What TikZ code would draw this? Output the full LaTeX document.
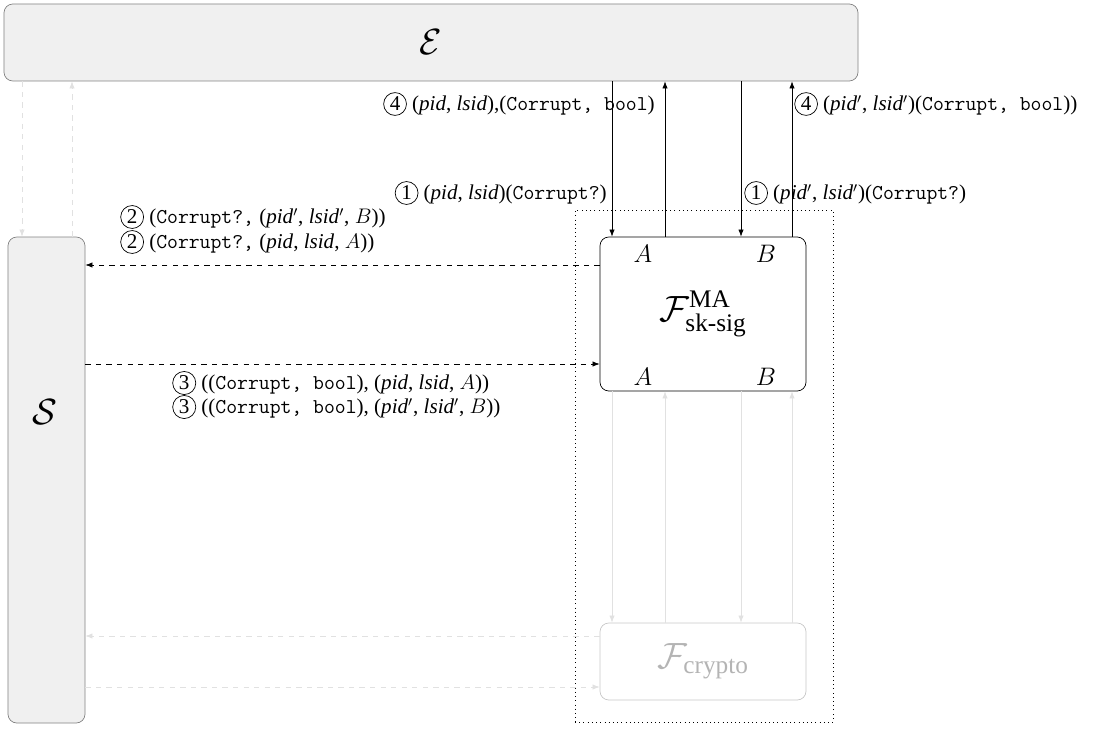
\documentclass[tikz,border=0pt]{standalone}
\usepackage{amsmath}
\usepackage{fontspec}
\setmainfont{Liberation Serif}
\usetikzlibrary{arrows.meta,positioning}
\definecolor{envfill}{RGB}{240,240,240}
\definecolor{envdraw}{RGB}{130,130,130}
\definecolor{ghostline}{RGB}{225,225,225}
\definecolor{ghostdraw}{RGB}{200,200,200}
\definecolor{ghosttext}{RGB}{180,180,180}
\newcommand{\circled}[1]{\tikz[baseline=(c.base)]\node[draw,circle,inner sep=1.1pt](c){#1};}
\newcommand{\pid}{\textit{pid}}
\newcommand{\lsid}{\textit{lsid}}
\newcommand{\msg}[1]{\texttt{#1}}
\tikzset{
party/.style={draw=envdraw, fill=envfill, rounded corners=5pt, font=\huge},
func/.style={draw=black, fill=white, rounded corners=5pt, minimum width=4.12cm, minimum height=3.08cm, font=\huge},
ghostfunc/.style={draw=ghostdraw, fill=white, rounded corners=5pt, minimum width=4.12cm, minimum height=1.54cm, font=\huge, text=ghosttext},
realm/.style={draw=black, dotted, minimum width=5.16cm, minimum height=10.24cm},
port/.style={font=\Large},
lbl/.style={inner sep=0pt, font=\fontsize{12}{14}\selectfont},
arrow/.style={-{Latex[length=4pt,width=3pt]}, draw=black},
dasharrow/.style={arrow, dashed},
ghostarrow/.style={-{Latex[length=4pt,width=3pt]}, draw=ghostline},
ghostdash/.style={ghostarrow, dashed}
}
\begin{document}
\begin{tikzpicture}
\useasboundingbox (0,0) rectangle (22.22,-14.58);
\node[realm] (realm) at (14.08,-9.32) {};
\node[party, minimum width=17.08cm, minimum height=1.54cm] (env) at (8.62,-0.85) {$\mathcal{E}$};
\node[party, minimum width=1.54cm, minimum height=9.72cm] (sim) at (0.93,-9.6) {};
\node[font=\huge] (simtext) at (0.90,-8.24) {$\mathcal{S}$};
\node[func] (fma) at (14.06,-6.28) {$\mathcal{F}^{\text{MA}}_{\text{sk-sig}}$};
\node[ghostfunc] (crypto) at (14.06,-13.23) {$\mathcal{F}_{\text{crypto}}$};
\node[port] (inA) at (12.86,-5.08) {$A$};
\node[port] (inB) at (15.32,-5.08) {$B$};
\node[port] (outA) at (12.86,-7.54) {$A$};
\node[port] (outB) at (15.32,-7.54) {$B$};
% columns and rows of the connectors
\coordinate (cA) at (12.24,0);
\coordinate (cAr) at (13.30,0);
\coordinate (cB) at (14.82,0);
\coordinate (cBr) at (15.84,0);
\coordinate (sL) at (0.44,0);
\coordinate (sR) at (1.44,0);
\coordinate (r1) at (0,-5.30);
\coordinate (r2) at (0,-7.28);
\coordinate (r3) at (0,-12.72);
\coordinate (r4) at (0,-13.74);
\draw[arrow] (cA |- env.south) -- (cA |- fma.north);
\draw[arrow] (cAr |- fma.north) -- (cAr |- env.south);
\draw[arrow] (cB |- env.south) -- (cB |- fma.north);
\draw[arrow] (cBr |- fma.north) -- (cBr |- env.south);
\draw[ghostarrow] (cA |- fma.south) -- (cA |- crypto.north);
\draw[ghostarrow] (cAr |- crypto.north) -- (cAr |- fma.south);
\draw[ghostarrow] (cB |- fma.south) -- (cB |- crypto.north);
\draw[ghostarrow] (cBr |- crypto.north) -- (cBr |- fma.south);
\draw[ghostdash] (sL |- env.south) -- (sL |- sim.north);
\draw[ghostdash] (sR |- sim.north) -- (sR |- env.south);
\draw[dasharrow] (fma.west |- r1) -- (sim.east |- r1);
\draw[dasharrow] (sim.east |- r2) -- (fma.west |- r2);
\draw[ghostdash] (crypto.west |- r3) -- (sim.east |- r3);
\draw[ghostdash] (sim.east |- r4) -- (crypto.west |- r4);
% messages
\node[lbl, anchor=east] (m4a) at (13.10,-2.08) {\circled{4} (\pid, \lsid),(\msg{Corrupt,~bool})};
\node[lbl, anchor=west] (m4b) at (15.88,-2.08) {\circled{4} (\pid$'$, \lsid$'$)(\msg{Corrupt,~bool}))};
\node[lbl, anchor=east] (m1a) at (12.14,-3.86) {\circled{1} (\pid, \lsid)(\msg{Corrupt?})};
\node[lbl, anchor=west] (m1b) at (14.88,-3.86) {\circled{1} (\pid$'$, \lsid$'$)(\msg{Corrupt?})};
\node[lbl, anchor=west] (m2b) at (2.40,-4.34) {\circled{2} (\msg{Corrupt?,}~(\pid$'$, \lsid$'$, $B$))};
\node[lbl, anchor=west] (m2a) at (2.40,-4.84) {\circled{2} (\msg{Corrupt?,}~(\pid, \lsid, $A$))};
\node[lbl, anchor=west] (m3a) at (3.44,-7.66) {\circled{3} ((\msg{Corrupt,~bool}), (\pid, \lsid, $A$))};
\node[lbl, anchor=west] (m3b) at (3.44,-8.14) {\circled{3} ((\msg{Corrupt,~bool}), (\pid$'$, \lsid$'$, $B$))};
\end{tikzpicture}
\end{document}
